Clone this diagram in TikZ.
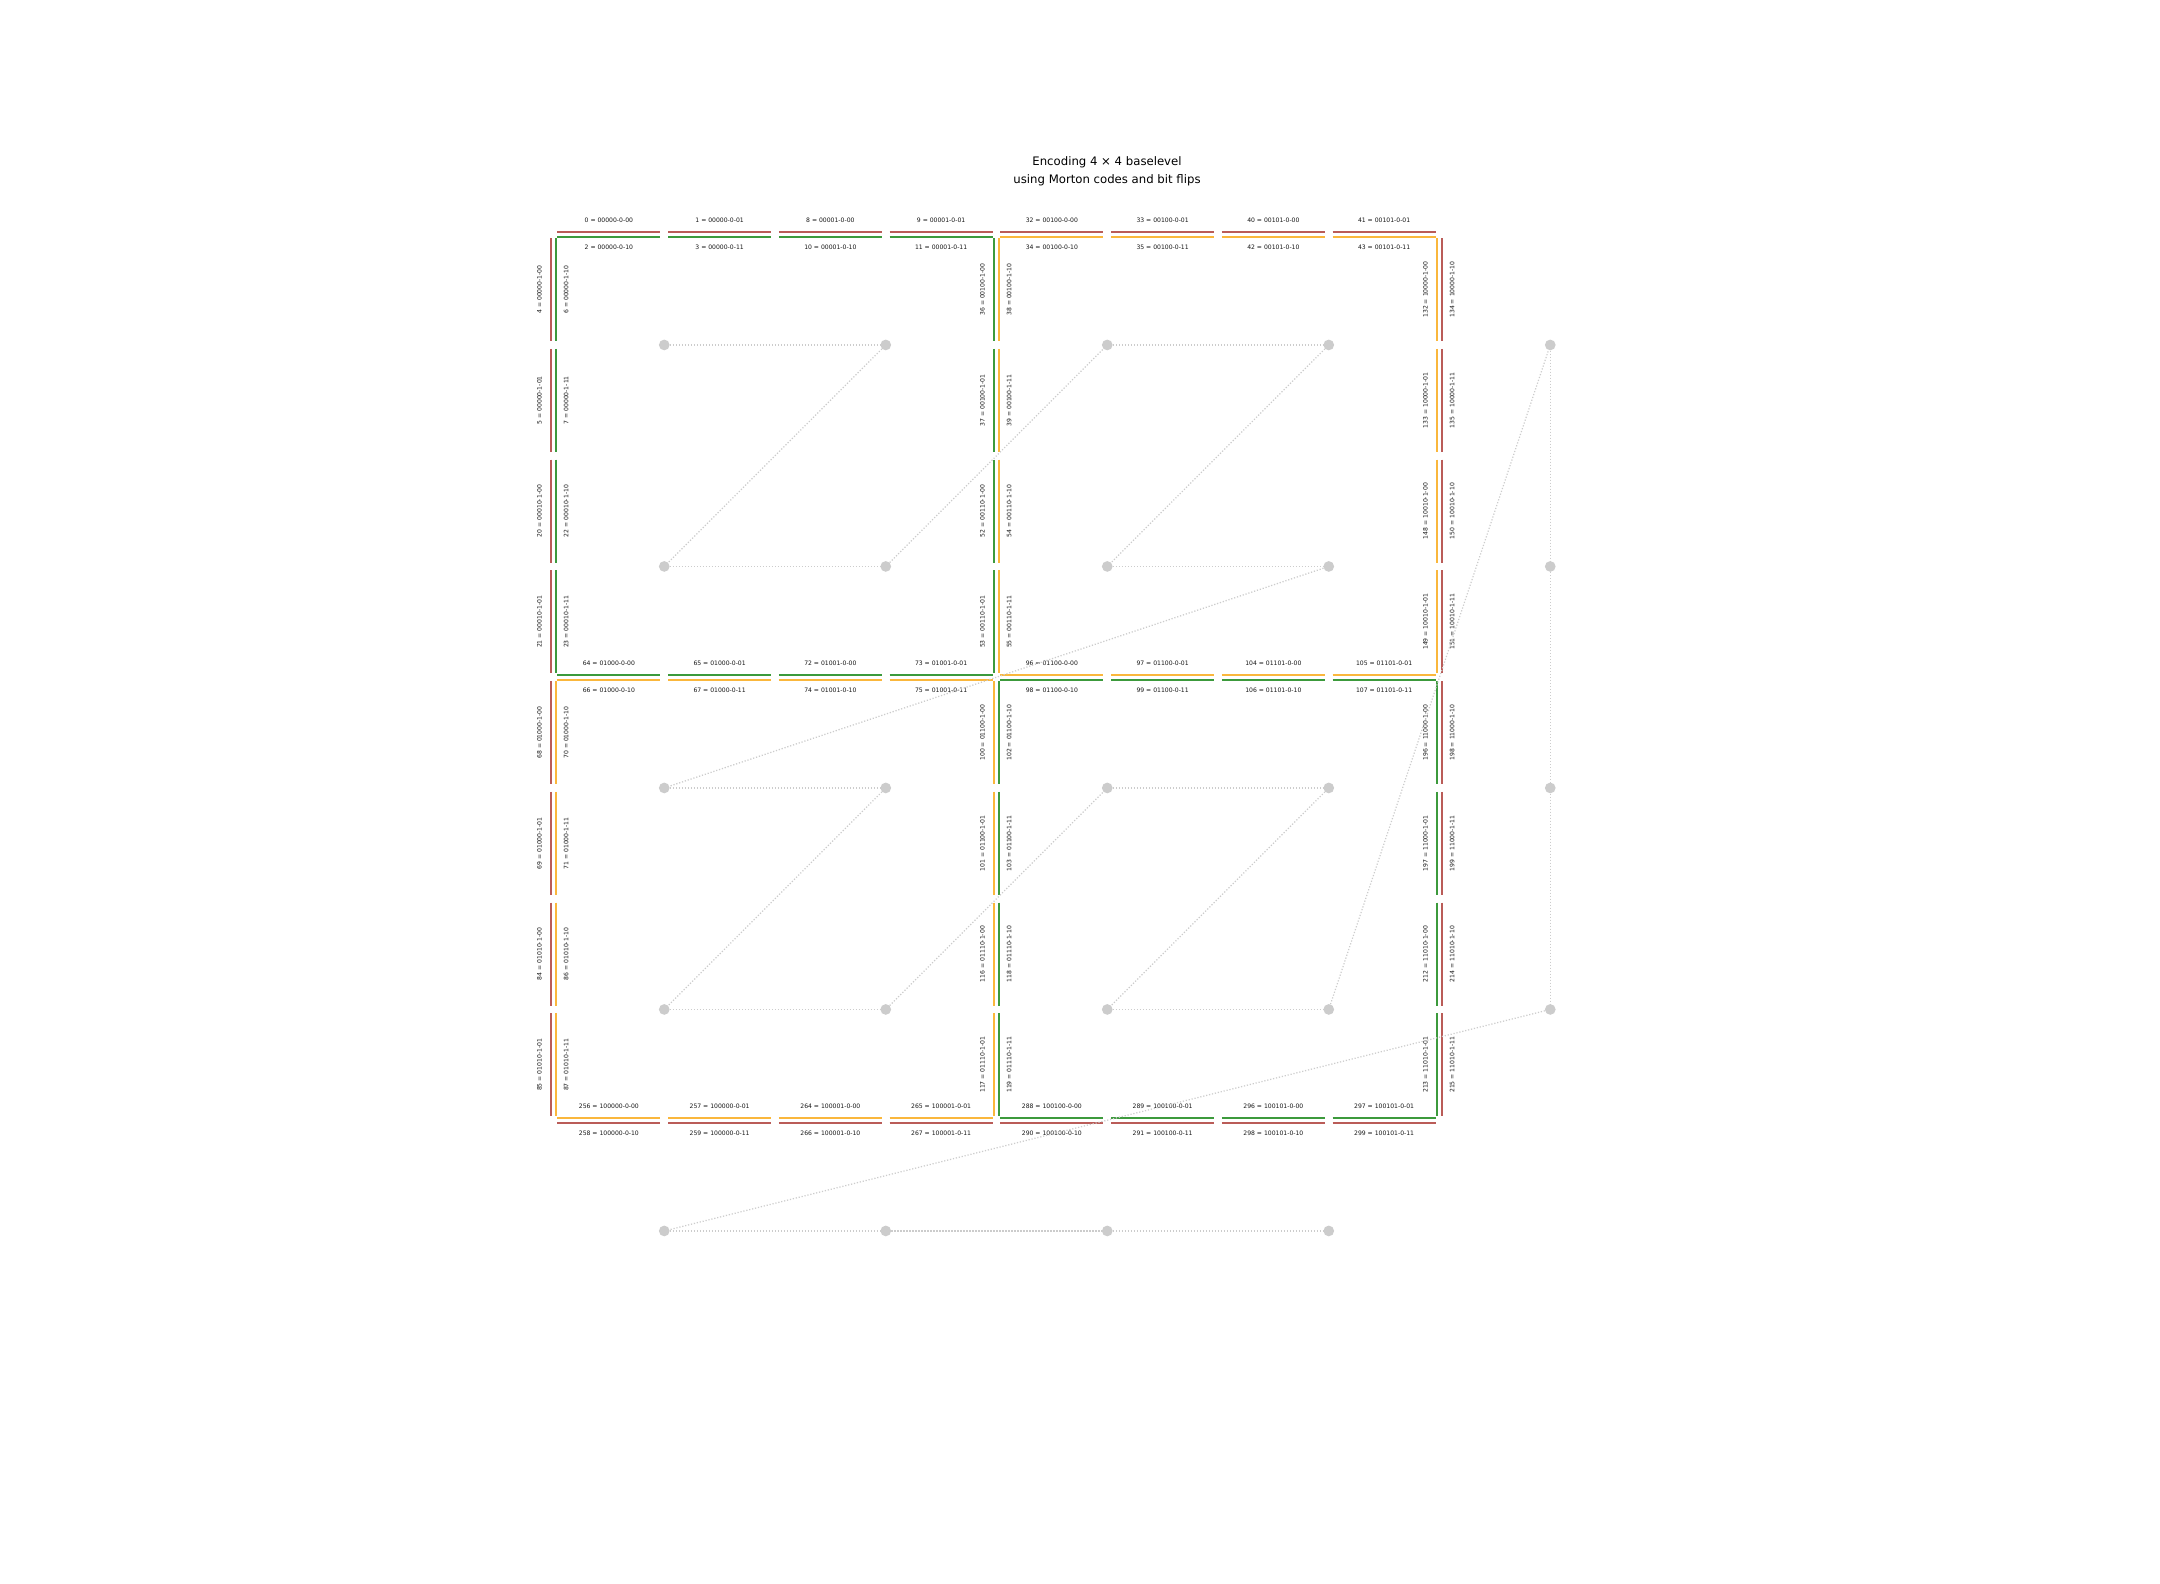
\documentclass[tikz,border=0pt]{standalone}
\usepackage{fontspec}
\setmainfont{DejaVu Sans}
\definecolor{cR}{RGB}{186,92,88}
\definecolor{cG}{RGB}{60,154,60}
\definecolor{cO}{RGB}{250,183,60}
\definecolor{dotc}{RGB}{204,204,204}
\tikzset{
  edgeline/.style={line width=2.2pt},
  lbl/.style={font=\fontsize{6.1}{7}\selectfont, inner sep=0pt, text=black!90},
  vlbl/.style={lbl, rotate=90},
  zdot/.style={circle, fill=dotc, minimum size=10.7pt, inner sep=0pt},
  zline/.style={draw=dotc, line width=1.2pt, dash pattern=on 1.2pt off 1.8pt},
}
\def\gox{553.5}
\def\goy{234.2}
\def\gcw{110.75}
% horizontal pair: #1 grid row j, #2 first segment k, #3 morton m, #4 code, #5 colour above, #6 colour below
\newcommand\hpair[6]{%
 \foreach \s in {0,1}{%
   \pgfmathsetmacro\xa{\gox+\gcw*(#2+\s)+3.8}
   \pgfmathsetmacro\xb{\gox+\gcw*(#2+\s+1)-3.8}
   \pgfmathsetmacro\xm{\gox+\gcw*(#2+\s+0.5)}
   \pgfmathsetmacro\yy{\goy+\gcw*#1}
   \draw[edgeline,#5] (\xa,\yy-2.5) -- (\xb,\yy-2.5);
   \draw[edgeline,#6] (\xa,\yy+2.5) -- (\xb,\yy+2.5);
   \edef\na{\the\numexpr 8*#3+\s\relax}%
   \edef\nb{\the\numexpr 8*#3+2+\s\relax}%
   \node[lbl] (L\na) at (\xm,\yy-13.7) {\na\ = #4-0-0\s};
   \node[lbl] (L\nb) at (\xm,\yy+13.3) {\nb\ = #4-0-1\s};
 }}
% vertical pair: #1 grid column i, #2 first segment k, #3 morton m, #4 code, #5 colour left, #6 colour right
\newcommand\vpair[6]{%
 \foreach \s in {0,1}{%
   \pgfmathsetmacro\ya{\goy+\gcw*(#2+\s)+3.8}
   \pgfmathsetmacro\yb{\goy+\gcw*(#2+\s+1)-3.8}
   \pgfmathsetmacro\ym{\goy+\gcw*(#2+\s+0.5)}
   \pgfmathsetmacro\xx{\gox+\gcw*#1}
   \draw[edgeline,#5] (\xx-2.5,\ya) -- (\xx-2.5,\yb);
   \draw[edgeline,#6] (\xx+2.5,\ya) -- (\xx+2.5,\yb);
   \edef\na{\the\numexpr 8*#3+4+\s\relax}%
   \edef\nb{\the\numexpr 8*#3+6+\s\relax}%
   \node[vlbl] (L\na) at (\xx-14.2,\ym) {\na\ = #4-1-0\s};
   \node[vlbl] (L\nb) at (\xx+12.6,\ym) {\nb\ = #4-1-1\s};
 }}
\begin{document}
\begin{tikzpicture}[x=1pt,y=-1pt]
\useasboundingbox[fill=white] (0,0) rectangle (2160,1584);
\node[font=\fontsize{11.7}{17.3}\selectfont, align=center, inner sep=0pt] (title) at (1107,171.3)
  {Encoding 4 × 4 baselevel\\using Morton codes and bit flips};
% horizontal edges
\hpair{0}{0}{0}{00000}{cR}{cG}
\hpair{0}{2}{1}{00001}{cR}{cG}
\hpair{0}{4}{4}{00100}{cR}{cO}
\hpair{0}{6}{5}{00101}{cR}{cO}
\hpair{4}{0}{8}{01000}{cG}{cO}
\hpair{4}{2}{9}{01001}{cG}{cO}
\hpair{4}{4}{12}{01100}{cO}{cG}
\hpair{4}{6}{13}{01101}{cO}{cG}
\hpair{8}{0}{32}{100000}{cO}{cR}
\hpair{8}{2}{33}{100001}{cO}{cR}
\hpair{8}{4}{36}{100100}{cG}{cR}
\hpair{8}{6}{37}{100101}{cG}{cR}
% vertical edges
\vpair{0}{0}{0}{00000}{cR}{cG}
\vpair{0}{2}{2}{00010}{cR}{cG}
\vpair{0}{4}{8}{01000}{cR}{cO}
\vpair{0}{6}{10}{01010}{cR}{cO}
\vpair{4}{0}{4}{00100}{cG}{cO}
\vpair{4}{2}{6}{00110}{cG}{cO}
\vpair{4}{4}{12}{01100}{cO}{cG}
\vpair{4}{6}{14}{01110}{cO}{cG}
\vpair{8}{0}{16}{10000}{cO}{cR}
\vpair{8}{2}{18}{10010}{cO}{cR}
\vpair{8}{4}{24}{11000}{cG}{cR}
\vpair{8}{6}{26}{11010}{cG}{cR}
% Morton-order dots
\foreach \i/\j [count=\c] in {1/1,3/1,1/3,3/3,5/1,7/1,5/3,7/3,1/5,3/5,1/7,3/7,5/5,7/5,5/7,7/7,9/1,9/3,9/5,9/7,1/9,3/9,5/9,7/9}
  \node[zdot] (d\c) at ({\gox+\gcw*\i},{\goy+\gcw*\j}) {};
\foreach \a [evaluate=\a as \b using int(\a+1)] in {1,...,23}
  \draw[zline] (d\a) -- (d\b);
\end{tikzpicture}
\end{document}
